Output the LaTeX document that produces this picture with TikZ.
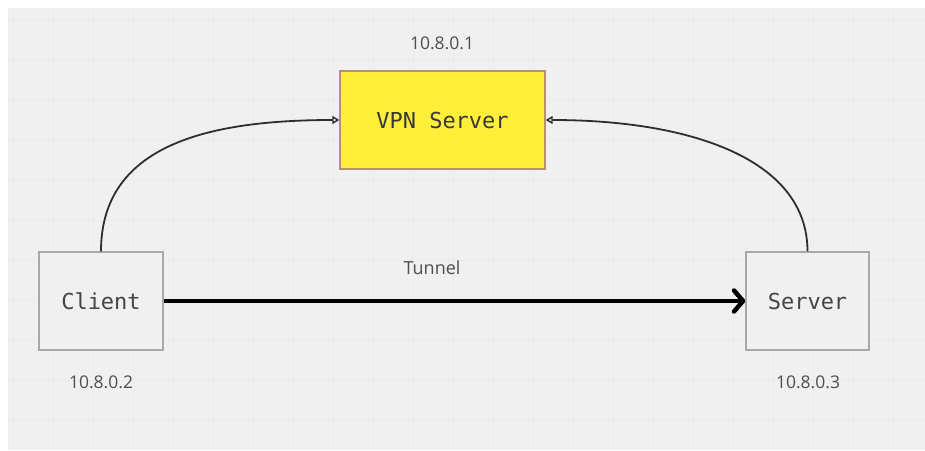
\documentclass[tikz,border=0pt]{standalone}
\usepackage{fontspec}
\setmainfont{Open Sans}
\newfontfamily\monofont{DejaVu Sans Mono}
\usetikzlibrary{arrows.meta}
\definecolor{bgc}{HTML}{F0F0F0}
\definecolor{gridc}{HTML}{EAEAEA}
\definecolor{boxline}{HTML}{A8A8A8}
\definecolor{vpnfill}{HTML}{FFEE3A}
\definecolor{vpnline}{HTML}{B8906E}
\definecolor{txtc}{HTML}{444444}
\definecolor{lblc}{HTML}{4E4E4E}
\definecolor{linec}{HTML}{2E2E2E}
\tikzset{
  hostbox/.style={draw=boxline, line width=1.4pt, fill=bgc, minimum width=124pt, minimum height=98pt, inner sep=0pt,
    font=\monofont\fontsize{22}{24}\selectfont, text=txtc},
  vpnbox/.style={draw=vpnline, line width=1.4pt, fill=vpnfill, minimum width=205pt, minimum height=98pt, inner sep=0pt,
    font=\monofont\fontsize{22}{24}\selectfont, text=black!78},
  iplabel/.style={font=\fontsize{17.5}{19}\selectfont, text=lblc, inner sep=0pt},
  curvelink/.style={draw=linec, line width=1.8pt, -{Triangle[open, length=7pt, width=8pt, line width=1.4pt]}},
  tunnellink/.style={draw=black, line width=4.5pt, -{Straight Barb[length=9pt, width=21pt, line cap=round, line join=round]}}
}
\begin{document}
\begin{tikzpicture}[x=1pt, y=-1pt]
  \useasboundingbox (0,0) rectangle (925,450);
  \fill[white] (0,0) rectangle (925,450);
  \fill[bgc] (8,8) rectangle (925,450);
  \begin{scope}
    \clip (8,8) rectangle (925,450);
    \foreach \gx in {13,53,93,...,913} \draw[gridc, line width=0.7pt] (\gx,8) -- (\gx,450);
    \foreach \gy in {20,60,...,440} \draw[gridc, line width=0.7pt] (8,\gy) -- (925,\gy);
  \end{scope}

  \node[vpnbox] (vpn) at (442.5,120) {VPN Server};
  \node[hostbox] (client) at (101,301) {Client};
  \node[hostbox, minimum width=123pt] (server) at (807.5,301) {Server};

  \node[iplabel] (ipvpn) at (442,43) {10.8.0.1};
  \node[iplabel] (ipclient) at (101,382) {10.8.0.2};
  \node[iplabel] (ipserver) at (808,382) {10.8.0.3};
  \node[iplabel, font=\fontsize{18}{20}\selectfont] (tunnel) at (432,268) {Tunnel};

  \draw[curvelink] (client.north) .. controls +(0,-107) and +(-130,0) .. (vpn.west);
  \draw[curvelink] (server.north) .. controls +(0,-92) and +(145,0) .. (vpn.east);
  \draw[tunnellink] (client.east) -- (server.west);
\end{tikzpicture}
\end{document}
